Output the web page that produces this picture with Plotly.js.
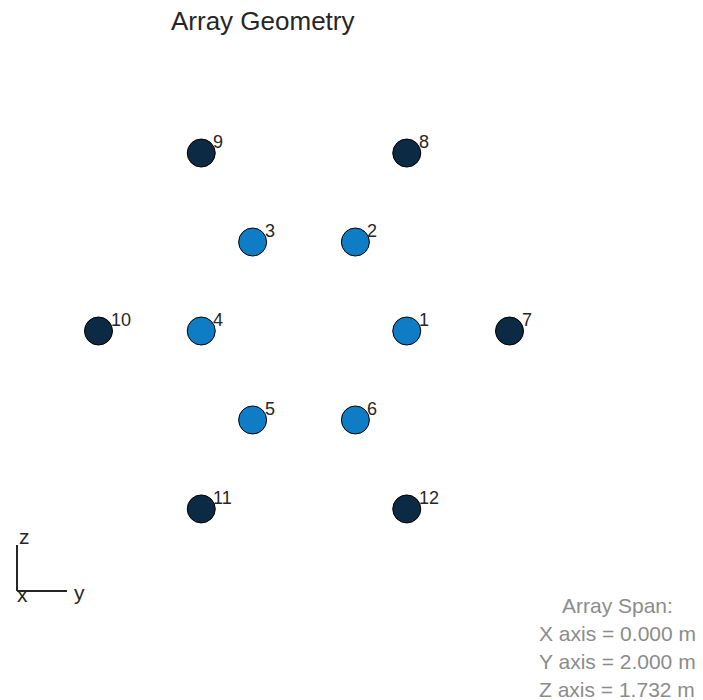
<!DOCTYPE html>
<html><head><meta charset="utf-8">
<script src="https://cdn.plot.ly/plotly-3.0.1.min.js"></script>
<style>html,body{margin:0;padding:0;background:#fff}#chart{width:703px;height:700px}</style>
</head><body><div id="chart"></div>
<script>
// Element positions (y, z) in metres
const elementIds = [1,2,3,4,5,6,7,8,9,10,11,12];
const elemY = [0.5, 0.25, -0.25, -0.5, -0.25, 0.25, 1.0, 0.5, -0.5, -1.0, -0.5, 0.5];
const elemZ = [0, 0.433, 0.433, 0, -0.433, -0.433, 0, 0.866, 0.866, 0, -0.866, -0.866];
const innerIdx = [0,1,2,3,4,5];
const outerIdx = [6,7,8,9,10,11];
const spanLines = ["Array Span:", "X axis = 0.000 m", "Y axis = 2.000 m", "Z axis = 1.732 m"];

const W = 703, H = 700, S = 205.5, cx = 304, cy = 331;
const px = p => p / W, py = p => 1 - p / H;

function trace(idx, color) {
  return {
    type: 'scatter', mode: 'markers',
    x: idx.map(i => elemY[i]), y: idx.map(i => elemZ[i]),
    marker: {size: 28, color: color, line: {color: '#000', width: 1}},
    hoverinfo: 'skip', showlegend: false
  };
}
const data = [trace(innerIdx, '#0e7dc5'), trace(outerIdx, '#0c2a43')];

const font = {family: 'Liberation Sans, Arial, sans-serif', color: '#262626'};
const annotations = elementIds.map((id, i) => ({
  x: elemY[i], y: elemZ[i], xref: 'x', yref: 'y', text: String(id), showarrow: false,
  xanchor: 'left', yanchor: 'middle', xshift: 10, yshift: 11,
  font: Object.assign({}, font, {size: 18})
}));
annotations.push({x: px(263), y: py(21), xref: 'paper', yref: 'paper', text: 'Array Geometry',
  showarrow: false, xanchor: 'center', yanchor: 'middle', font: Object.assign({}, font, {size: 26})});
spanLines.forEach((t, k) => annotations.push({x: px(617), y: py(605 + 28 * k), xref: 'paper', yref: 'paper',
  text: t, showarrow: false, xanchor: 'center', yanchor: 'middle',
  font: {family: 'Liberation Sans, Arial, sans-serif', size: 21, color: '#8c8c8c'}}));
[['z', 24, 536], ['y', 79, 592], ['x', 23, 594]].forEach(([t, x, y]) => annotations.push({
  x: px(x), y: py(y), xref: 'paper', yref: 'paper', text: t, showarrow: false,
  xanchor: 'center', yanchor: 'middle', font: Object.assign({}, font, {size: 21})}));

const shapes = [
  {type: 'line', xref: 'paper', yref: 'paper', x0: px(17), x1: px(17), y0: py(545), y1: py(591), line: {color: '#262626', width: 2}},
  {type: 'line', xref: 'paper', yref: 'paper', x0: px(17), x1: px(67), y0: py(591), y1: py(591), line: {color: '#262626', width: 2}}
];

const layout = {
  width: W, height: H, margin: {l: 0, r: 0, t: 0, b: 0},
  paper_bgcolor: '#fff', plot_bgcolor: '#fff',
  xaxis: {range: [-cx / S, (W - cx) / S], visible: false, fixedrange: true},
  yaxis: {range: [-(H - cy) / S, cy / S], visible: false, fixedrange: true},
  annotations: annotations, shapes: shapes, showlegend: false
};
Plotly.newPlot('chart', data, layout, {displayModeBar: false, staticPlot: true});
</script></body></html>
